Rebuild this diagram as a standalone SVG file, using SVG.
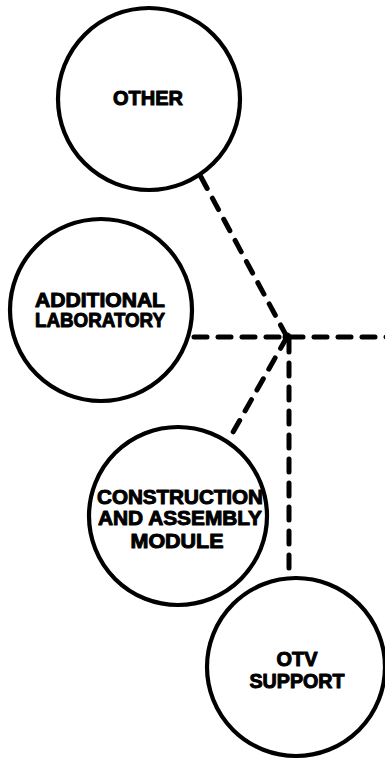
<svg xmlns="http://www.w3.org/2000/svg" width="385" height="760" viewBox="0 0 385 760">
  <style>
    .node circle { fill: #ffffff; stroke: #000000; stroke-width: 4.2; }
    .node text { font-family: "Liberation Sans", Arial, sans-serif; font-weight: bold; font-size: 20px; fill: #000000; stroke: #000000; stroke-width: 1; stroke-linejoin: round; text-anchor: middle; }
    .link { fill: none; stroke: #000000; stroke-width: 5; stroke-linecap: round; stroke-dasharray: 13 11; }
  </style>
  <rect width="385" height="760" fill="#ffffff"/>

  <!-- dashed connectors meeting at a common junction -->
  <g id="connectors">
    <line class="link" x1="201" y1="177" x2="287" y2="337"/>
    <line class="link" x1="194" y1="337" x2="390" y2="337"/>
    <line class="link" x1="287" y1="337" x2="232" y2="434"/>
    <line class="link" x1="289" y1="339" x2="289" y2="578"/>
    <circle cx="287" cy="337" r="4.5" fill="#000000"/>
  </g>

  <g id="other" class="node">
    <circle cx="149" cy="99" r="91"/>
    <text x="148" y="105" textLength="70" lengthAdjust="spacingAndGlyphs">OTHER</text>
  </g>

  <g id="additional-laboratory" class="node">
    <circle cx="101" cy="310" r="91"/>
    <text x="100" y="307" textLength="130" lengthAdjust="spacingAndGlyphs">ADDITIONAL</text>
    <text x="100" y="327" textLength="130" lengthAdjust="spacingAndGlyphs">LABORATORY</text>
  </g>

  <g id="construction-assembly-module" class="node">
    <circle cx="178" cy="516" r="89"/>
    <text x="180" y="504" textLength="166" lengthAdjust="spacingAndGlyphs">CONSTRUCTION</text>
    <text x="180" y="525" textLength="164" lengthAdjust="spacingAndGlyphs">AND ASSEMBLY</text>
    <text x="177" y="548" textLength="93" lengthAdjust="spacingAndGlyphs">MODULE</text>
  </g>

  <g id="otv-support" class="node">
    <circle cx="296" cy="667" r="89"/>
    <text x="297" y="666" textLength="41" lengthAdjust="spacingAndGlyphs">OTV</text>
    <text x="297" y="688" textLength="95" lengthAdjust="spacingAndGlyphs">SUPPORT</text>
  </g>
</svg>
